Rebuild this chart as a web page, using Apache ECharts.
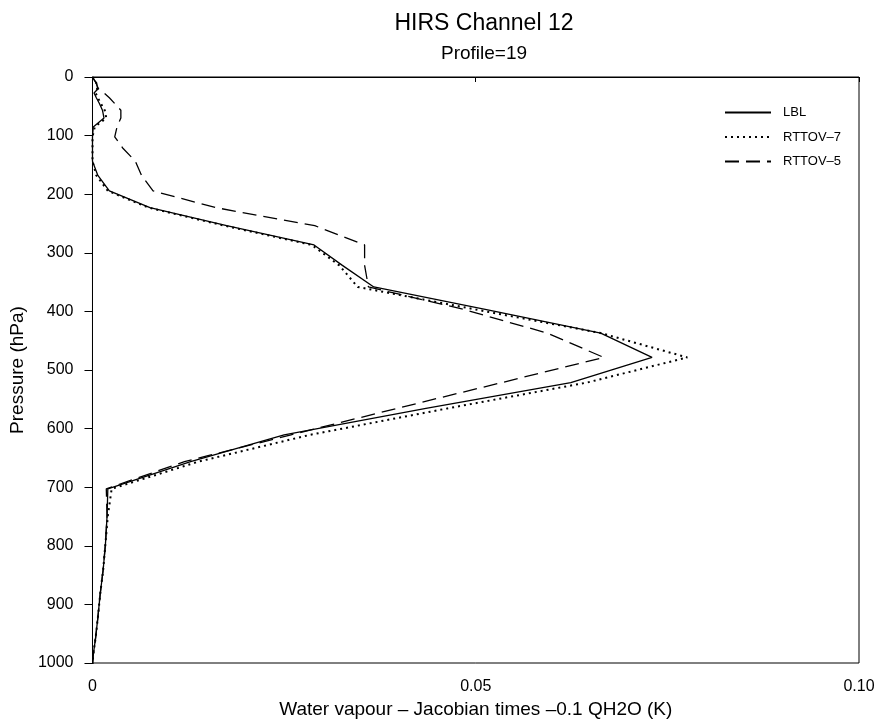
<!DOCTYPE html>
<html>
<head>
<meta charset="utf-8">
<script src="https://cdn.jsdelivr.net/npm/echarts@6/dist/echarts.min.js"></script>
<style>html,body{margin:0;padding:0;background:#fff;}#c{width:878px;height:724px;}</style>
</head>
<body>
<div id="c"></div>
<script>
const pressure = [0.1,0.29,0.69,1.42,2.61,4.41,6.95,10.37,14.81,20.4,27.26,35.51,45.29,56.73,69.97,85.18,102.05,122.04,143.84,167.95,194.36,222.94,253.71,286.6,321.5,358.28,396.81,436.95,478.54,521.46,565.54,610.6,656.43,702.73,749.12,795.09,839.95,882.8,922.46,957.44,985.88,1005.43];
const lbl = [0,0,0.0001,0.0001,0.0001,0.0002,0.0003,0.0005,0.0006,0.0007,0.0002,0.0005,0.0009,0.0013,0.0015,0.0001,0,0,0,0.0007,0.0022,0.0075,0.0175,0.0289,0.0326,0.0367,0.0514,0.0663,0.0730,0.0624,0.0435,0.0250,0.0128,0.0020,0.0019,0.0017,0.0014,0.0010,0.0007,0.0004,0.0001,0];
const rttov7 = [0,0,0.0001,0.0001,0.0001,0.0002,0.0003,0.0005,0.0006,0.0006,0.0004,0.0007,0.0011,0.0016,0.0018,0.0003,0,0,0,0.0005,0.0020,0.0073,0.0172,0.0286,0.0322,0.0346,0.0500,0.0663,0.0776,0.0645,0.0463,0.0284,0.0138,0.0025,0.0020,0.0017,0.0014,0.0010,0.0007,0.0004,0.0001,0];
const rttov5 = [0,0,0.0001,0.0001,0.0001,0.0002,0.0003,0.0005,0.0006,0.0008,0.0015,0.0022,0.0029,0.0037,0.0037,0.0032,0.0029,0.0040,0.0056,0.0064,0.0079,0.0161,0.0290,0.0355,0.0355,0.0360,0.0485,0.0593,0.0667,0.0534,0.0397,0.0259,0.0120,0.0018,0.0019,0.0017,0.0014,0.0010,0.0007,0.0004,0.0001,0];
const xTicks = ['0','0.05','0.10'];
const seriesNames = ['LBL','RTTOV\u20137','RTTOV\u20135'];

const chart = echarts.init(document.getElementById('c'), null, {renderer:'canvas'});
const font = 'Liberation Sans, Arial, sans-serif';
function pairs(v){ return v.map((x,i)=>[x, pressure[i]]); }
chart.setOption({
  animation:false,
  backgroundColor:'#fff',
  title:[
    {text:'HIRS Channel 12', left:479, top:7, textAlign:'center', textStyle:{fontFamily:font, fontSize:23, fontWeight:'normal', color:'#000'}},
    {text:'Profile=19', left:479, top:39, textAlign:'center', textStyle:{fontFamily:font, fontSize:19, fontWeight:'normal', color:'#000'}}
  ],
  legend:{
    orient:'vertical', left:719, top:101, itemWidth:46, itemHeight:14, itemGap:11.5,
    textStyle:{fontFamily:font, fontSize:13, color:'#000', padding:[0,0,0,7]},
    itemStyle:{color:'transparent', borderWidth:0, opacity:0},
    data:seriesNames
  },
  grid:{left:91, right:19, top:77, bottom:61, show:true, borderColor:'#000', borderWidth:1},
  xAxis:{
    type:'value', min:0, max:0.1, interval:0.05,
    name:'Water vapour \u2013 Jacobian times \u20130.1 QH2O (K)', nameLocation:'middle', nameGap:34,
    nameTextStyle:{fontFamily:font, fontSize:19, color:'#000'},
    axisLine:{show:true, lineStyle:{color:'#000', width:1}},
    axisTick:{show:true, inside:false, length:5, lineStyle:{color:'#000'}},
    axisLabel:{fontFamily:font, fontSize:16, color:'#000', margin:16, formatter:function(v){return xTicks[Math.round(v/0.05)];}},
    splitLine:{show:false}
  },
  yAxis:{
    type:'value', inverse:true, min:0, max:1000, interval:100,
    name:'Pressure (hPa)', nameLocation:'middle', nameGap:59,
    nameTextStyle:{fontFamily:font, fontSize:19, color:'#000'},
    axisLine:{show:true, lineStyle:{color:'#000', width:1}},
    axisTick:{show:true, inside:false, length:8, lineStyle:{color:'#000'}},
    axisLabel:{fontFamily:font, fontSize:16, color:'#000', margin:19, formatter:function(v){return String(v);}},
    splitLine:{show:false}
  },
  series:[
    {name:seriesNames[0], type:'line', data:pairs(lbl), symbol:'none', clip:true, lineStyle:{color:'#000', width:1.3, type:'solid'}, itemStyle:{color:'#000'}},
    {name:seriesNames[1], type:'line', data:pairs(rttov7), symbol:'none', clip:true, lineStyle:{color:'#000', width:2, type:[2,4]}, itemStyle:{color:'#000'}},
    {name:seriesNames[2], type:'line', data:pairs(rttov5), symbol:'none', clip:true, lineStyle:{color:'#000', width:1.3, type:[14,7]}, itemStyle:{color:'#000'}}
  ]
});
</script>
</body>
</html>
